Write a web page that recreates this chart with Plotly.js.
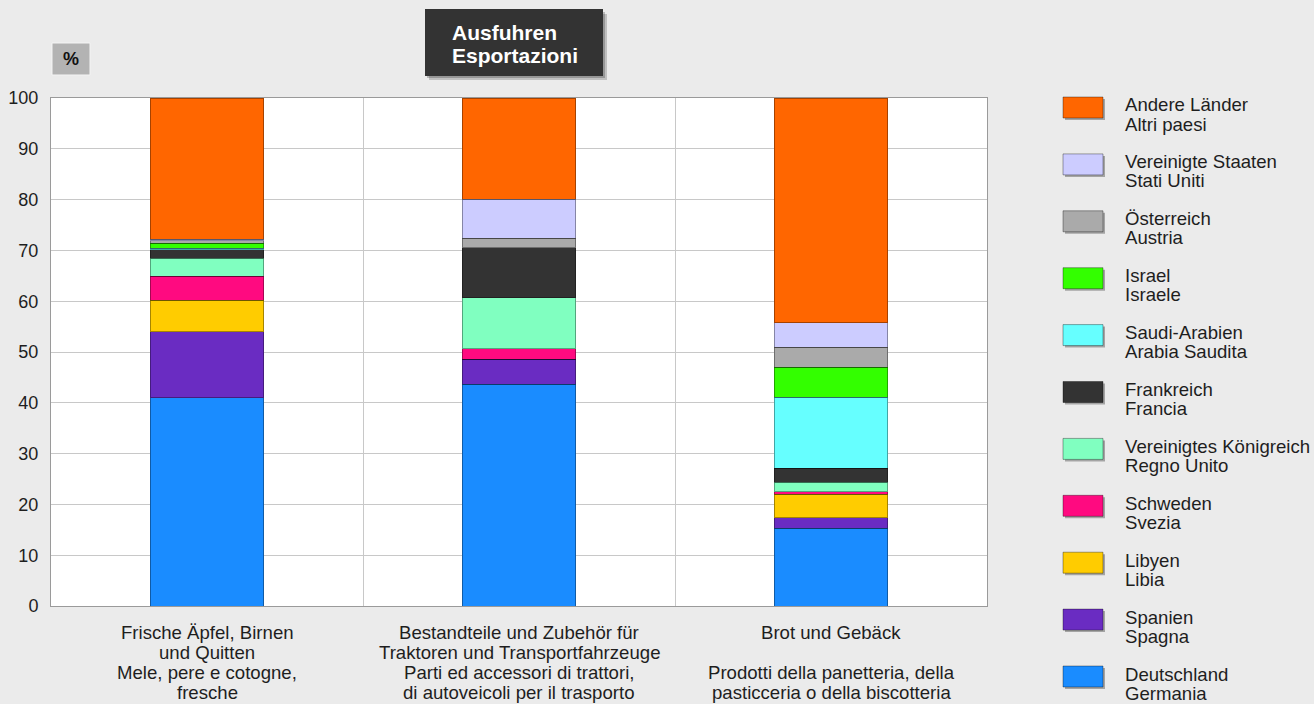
<!DOCTYPE html>
<html>
<head>
<meta charset="utf-8">
<script src="https://cdn.plot.ly/plotly-3.0.1.min.js"></script>
<style>
  html, body { margin: 0; padding: 0; background: #ebebeb; }
  #chart { width: 1314px; height: 704px; }
</style>
</head>
<body>
<div id="chart"></div>
<script>
// Category labels, one entry per printed line (German, then Italian)
const categoryLines = [
  ["Frische Äpfel, Birnen", "und Quitten", "Mele, pere e cotogne,", "fresche"],
  ["Bestandteile und Zubehör für", "Traktoren und Transportfahrzeuge", "Parti ed accessori di trattori,", "di autoveicoli per il trasporto"],
  ["Brot und Gebäck", "", "Prodotti della panetteria, della", "pasticceria o della biscotteria"]
];
const categories = ["Äpfel, Birnen, Quitten", "Traktorenteile", "Brot und Gebäck"];

// Destination countries, bottom of the stack first
const countriesDe = ["Deutschland", "Spanien", "Libyen", "Schweden", "Vereinigtes Königreich",
  "Frankreich", "Saudi-Arabien", "Israel", "Österreich", "Vereinigte Staaten", "Andere Länder"];
const countriesIt = ["Germania", "Spagna", "Libia", "Svezia", "Regno Unito",
  "Francia", "Arabia Saudita", "Israele", "Austria", "Stati Uniti", "Altri paesi"];

// Share of exports (%) per category
const deutschland = [41.0, 43.7, 15.3];
const spanien     = [13.0, 4.9, 2.1];
const libyen      = [6.2, 0, 4.6];
const schweden    = [4.7, 2.0, 0.5];
const koenigreich = [3.6, 10.1, 1.9];
const frankreich  = [1.6, 9.8, 2.7];
const saudi       = [0.3, 0, 14.0];
const israel      = [1.0, 0, 5.9];
const oesterreich = [0.5, 1.9, 3.9];
const usa         = [0.3, 7.7, 4.9];
const andere      = [27.8, 19.9, 44.2];

const yTicks = [0, 10, 20, 30, 40, 50, 60, 70, 80, 90, 100];

const seriesValues = [deutschland, spanien, libyen, schweden, koenigreich,
  frankreich, saudi, israel, oesterreich, usa, andere];
const colors = ["#1a8cff", "#6a2cc2", "#ffcc00", "#ff0a80", "#80ffc0",
  "#333333", "#66ffff", "#33ff00", "#aaaaaa", "#ccccff", "#ff6600"];

const FONT = "Liberation Sans, Arial, Helvetica, sans-serif";
const TEXT_SIZE = 18.6;

// plot area in pixels
const L = 51, R = 987, T = 98, B = 606;
const px = x => (x - L) / (R - L);
const py = y => (B - y) / (B - T);

const traces = seriesValues.map((vals, i) => ({
  type: "bar",
  x: categories,
  y: vals,
  name: countriesDe[i],
  marker: { color: colors[i], line: { color: "rgba(0,0,0,0.35)", width: 1 } },
  showlegend: false,
  hoverinfo: "name+y"
}));

const shapes = [];
const annotations = [];

// category labels below the axis
categoryLines.forEach((lines, c) => {
  lines.forEach((line, j) => {
    if (!line) return;
    annotations.push({
      xref: "x", yref: "paper", x: categories[c], y: py(632 + 20.2 * j),
      xanchor: "center", yanchor: "middle", showarrow: false,
      text: line, font: { family: FONT, size: TEXT_SIZE, color: "#1e1e1e" }
    });
  });
});

// title box with a soft drop shadow
shapes.push({ type: "rect", xref: "paper", yref: "paper", x0: px(429), x1: px(607), y0: py(14), y1: py(80),
  fillcolor: "rgba(0,0,0,0.18)", line: { width: 0 } });
shapes.push({ type: "rect", xref: "paper", yref: "paper", x0: px(427), x1: px(605), y0: py(12), y1: py(78),
  fillcolor: "rgba(0,0,0,0.22)", line: { width: 0 } });
shapes.push({ type: "rect", xref: "paper", yref: "paper", x0: px(425), x1: px(603), y0: py(9), y1: py(76),
  fillcolor: "#333333", line: { width: 0 } });
["Ausfuhren", "Esportazioni"].forEach((t, j) => {
  annotations.push({
    xref: "paper", yref: "paper", x: px(450), y: py(32 + 23.4 * j),
    xanchor: "left", yanchor: "middle", showarrow: false,
    text: "<b>" + t + "</b>", font: { family: FONT, size: 21, color: "#ffffff" }
  });
});

// unit box
shapes.push({ type: "rect", xref: "paper", yref: "paper", x0: px(52), x1: px(90), y0: py(43), y1: py(75),
  fillcolor: "#b3b3b3", line: { color: "#f4f4f4", width: 1 } });
annotations.push({
  xref: "paper", yref: "paper", x: px(71), y: py(59), xanchor: "center", yanchor: "middle",
  showarrow: false, text: "<b>%</b>", font: { family: FONT, size: 18, color: "#111111" }
});

// legend, top entry = top of the stack
for (let k = 0; k < countriesDe.length; k++) {
  const i = countriesDe.length - 1 - k;
  const top = 97 + 56.9 * k;
  shapes.push({ type: "rect", xref: "paper", yref: "paper", x0: px(1065), x1: px(1105), y0: py(top + 2), y1: py(top + 23),
    fillcolor: "rgba(0,0,0,0.3)", line: { width: 0 } });
  shapes.push({ type: "rect", xref: "paper", yref: "paper", x0: px(1063), x1: px(1103), y0: py(top), y1: py(top + 21),
    fillcolor: colors[i], line: { color: "rgba(0,0,0,0.35)", width: 1 } });
  [countriesDe[i], countriesIt[i]].forEach((t, j) => {
    annotations.push({
      xref: "paper", yref: "paper", x: px(1123), y: py(top + 8 + 19 * j),
      xanchor: "left", yanchor: "middle", showarrow: false,
      text: t, font: { family: FONT, size: TEXT_SIZE, color: "#1e1e1e" }
    });
  });
}

const layout = {
  width: 1314, height: 704,
  margin: { l: L, r: 1314 - R, t: T, b: 704 - B, pad: 0 },
  paper_bgcolor: "#ebebeb",
  plot_bgcolor: "#ffffff",
  barmode: "stack",
  bargap: 0.637,
  font: { family: FONT, size: 18, color: "#1e1e1e" },
  xaxis: {
    type: "category", tickson: "boundaries", showticklabels: false, ticks: "",
    showgrid: true, gridcolor: "#c8c8c8", gridwidth: 1,
    showline: true, linecolor: "#9a9a9a", linewidth: 1, mirror: true, zeroline: false,
    fixedrange: true
  },
  yaxis: {
    range: [0, 100], tickvals: yTicks, ticktext: yTicks.map(String),
    ticks: "outside", ticklen: 8, tickcolor: "rgba(0,0,0,0)",
    tickfont: { family: FONT, size: 18, color: "#1e1e1e" },
    showgrid: true, gridcolor: "#c8c8c8", gridwidth: 1,
    showline: true, linecolor: "#9a9a9a", linewidth: 1, mirror: true, zeroline: false,
    fixedrange: true
  },
  shapes: shapes,
  annotations: annotations,
  showlegend: false
};

Plotly.newPlot("chart", traces, layout, { displayModeBar: false, staticPlot: true });
</script>
</body>
</html>
